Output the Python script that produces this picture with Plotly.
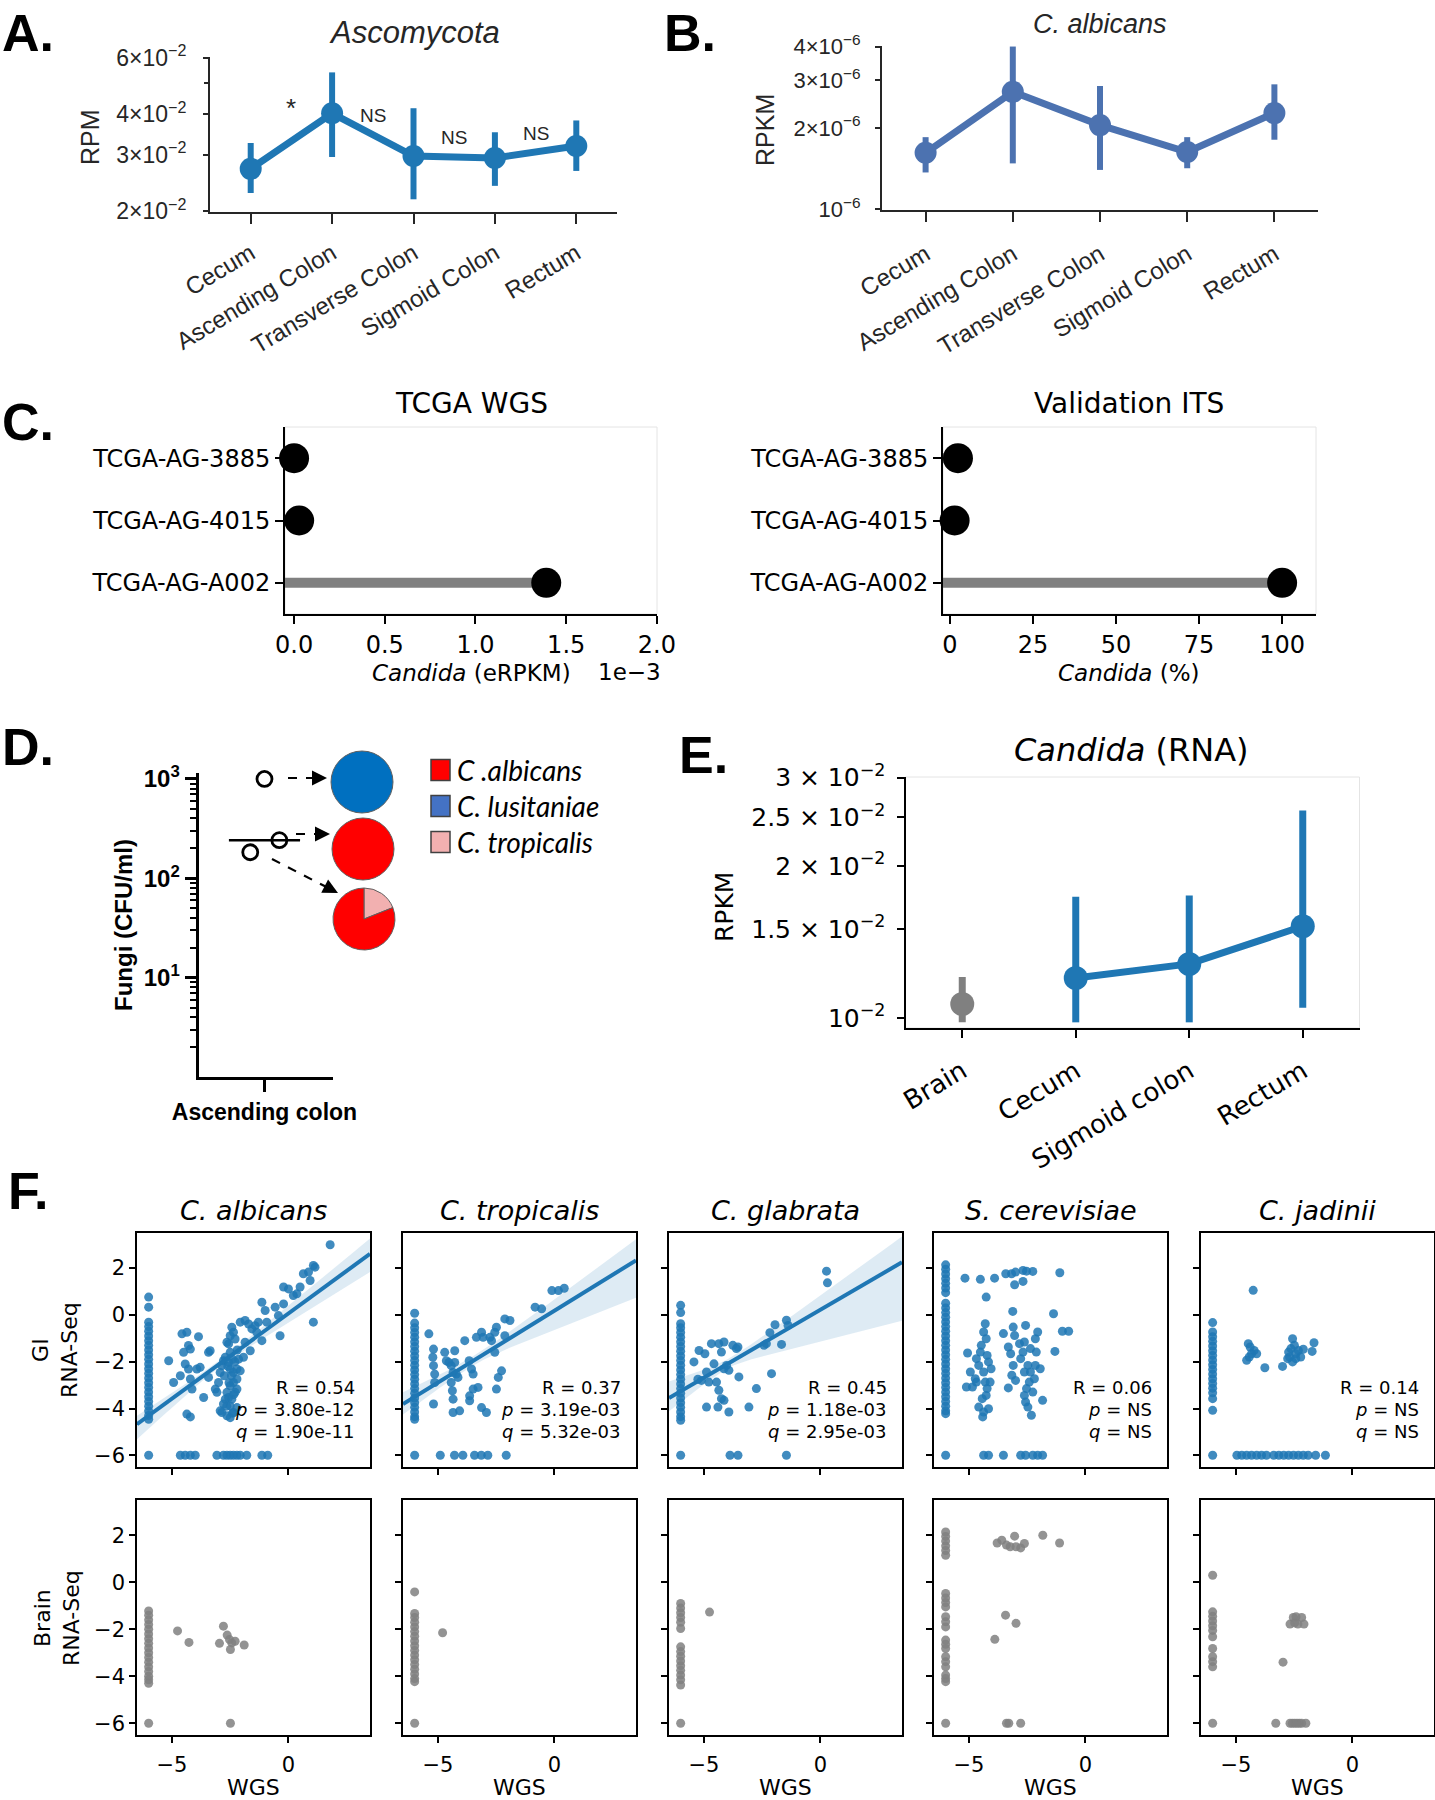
import numpy as np
import plotly.graph_objects as go

W, H = 1435, 1800
SANS = "Liberation Sans"
DJ = "DejaVu Sans"
A_BLUE = "#1f77b4"
B_BLUE = "#4c72b0"
GRAY = "#808080"
AXC = "#262626"

# ---------------- Panel A ----------------
a_cats = ["Cecum", "Ascending Colon", "Transverse Colon", "Sigmoid Colon", "Rectum"]
a_mean = [0.0271, 0.0403, 0.0297, 0.0293, 0.0319]
a_hi = [0.0326, 0.0540, 0.0418, 0.0352, 0.0383]
a_lo = [0.0228, 0.0295, 0.0218, 0.0240, 0.0267]
a_sig_text = ["*", "NS", "NS", "NS"]
a_sig_y = [0.0418, 0.0397, 0.0340, 0.0350]
a_ticks = [0.02, 0.03, 0.04, 0.06]
a_ticktext = ["2×10<sup>−2</sup>", "3×10<sup>−2</sup>", "4×10<sup>−2</sup>", "6×10<sup>−2</sup>"]

# ---------------- Panel B ----------------
b_cats = ["Cecum", "Ascending Colon", "Transverse Colon", "Sigmoid Colon", "Rectum"]
b_mean = [1.62e-6, 2.72e-6, 2.05e-6, 1.63e-6, 2.27e-6]
b_hi = [1.85e-6, 4.0e-6, 2.86e-6, 1.85e-6, 2.90e-6]
b_lo = [1.37e-6, 1.48e-6, 1.40e-6, 1.42e-6, 1.81e-6]
b_ticks = [1e-6, 2e-6, 3e-6, 4e-6]
b_ticktext = ["10<sup>−6</sup>", "2×10<sup>−6</sup>", "3×10<sup>−6</sup>", "4×10<sup>−6</sup>"]

# ---------------- Panel C ----------------
c_samples = ["TCGA-AG-3885", "TCGA-AG-4015", "TCGA-AG-A002"]
c_wgs = [0.0, 0.028, 1.39]          # x 1e-3 eRPKM
c_its = [2.4, 1.4, 100.0]           # %
c_wgs_ticks = [0.0, 0.5, 1.0, 1.5, 2.0]
c_its_ticks = [0, 25, 50, 75, 100]

# ---------------- Panel D ----------------
d_cfu = [1000, 242, 183]
d_jitter = [0.0, 0.113, -0.108]
d_pie_labels = [["C. lusitaniae"], ["C. albicans"], ["C. tropicalis", "C. albicans"]]
d_pie_values = [[1.0], [1.0], [0.19, 0.81]]
d_pie_colors = [["#0070c0"], ["#ff0000"], ["#f2b0b0", "#ff0000"]]
d_legend_text = ["C .albicans", "C. lusitaniae", "C. tropicalis"]
d_legend_colors = ["#ff0000", "#4472c4", "#f2b0b0"]

# ---------------- Panel E ----------------
e_cats = ["Brain", "Cecum", "Sigmoid colon", "Rectum"]
e_mean = [0.01066, 0.0120, 0.0128, 0.0152]
e_hi = [0.01205, 0.0174, 0.0175, 0.0258]
e_lo = [0.0098, 0.0098, 0.0098, 0.01047]
e_threshold = 0.01131
e_ticks = [0.01, 0.015, 0.02, 0.025, 0.03]
e_ticktext = ["10<sup>−2</sup>", "1.5 × 10<sup>−2</sup>", "2 × 10<sup>−2</sup>",
              "2.5 × 10<sup>−2</sup>", "3 × 10<sup>−2</sup>"]

# ---------------- Panel F ----------------
f_species = ["C. albicans", "C. tropicalis", "C. glabrata", "S. cerevisiae", "C. jadinii"]
f_R = ["0.54", "0.37", "0.45", "0.06", "0.14"]
f_p = ["3.80e-12", "3.19e-03", "1.18e-03", "NS", "NS"]
f_q = ["1.90e-11", "5.32e-03", "2.95e-03", "NS", "NS"]
f_floor = -6.0
f_ticks_x = [-5, 0]
f_ticks_y = [-6, -4, -2, 0, 2]
# regression fits: slope, intercept, centre, min half-width, upper(left,right), lower(left,right)
f_fit_slope = [0.728, 0.614, 0.58, None, None]
f_fit_icpt = [0.062, 0.181, 0.22, None, None]
f_ci_centre = [-3.0, -3.5, -4.0, None, None]
f_ci_min = [0.15, 0.2, 0.2, None, None]
f_ci_up = [(0.36, 0.65), (0.5, 0.9), (0.7, 1.1), None, None]
f_ci_lo = [(0.64, 0.78), (0.45, 1.6), (0.57, 2.5), None, None]

alb_gi_pts = [(-5.14, -1.96), (-4.93, -2.89), (-4.64, -2.6), (-4.57, -0.81), (-4.36, -0.74), (-4.5, -1.6),
              (-4.43, -2.1), (-4.29, -1.31), (-4.21, -1.46), (-4.29, -2.31), (-4.21, -2.74), (-4.14, -3.17),
              (-3.86, -0.93), (-3.93, -2.31), (-3.79, -2.24), (-3.64, -3.53), (-3.43, -1.6), (-3.36, -1.53),
              (-3.43, -2.67), (-4.36, -4.24), (-4.21, -4.36), (-3.14, -3.17), (-3.07, -3.31), (-3.0, -2.89),
              (-2.93, -2.46), (-2.86, -2.17), (-2.79, -1.96), (-2.71, -1.81), (-2.64, -1.17), (-2.57, -1.24),
              (-2.5, -0.89), (-2.43, -0.53), (-2.36, -0.74), (-2.29, -1.03), (-2.5, -1.6), (-2.57, -2.03),
              (-2.5, -2.31), (-2.36, -2.46), (-2.21, -2.31), (-2.07, -2.39), (-2.21, -2.74), (-2.36, -2.89),
              (-2.5, -3.03), (-2.64, -3.31), (-2.71, -3.6), (-2.79, -3.81), (-2.93, -4.1), (-2.86, -4.17),
              (-2.64, -4.31), (-2.5, -4.39), (-2.36, -4.17), (-2.21, -3.96), (-2.5, -3.89), (-2.57, -3.53),
              (-2.43, -3.6), (-2.29, -3.31), (-2.21, -3.17), (-2.14, -1.89), (-1.93, -1.81), (-1.86, -1.17),
              (-1.64, -1.53), (-2.07, -0.31), (-1.86, -0.24), (-1.71, -0.39), (-1.57, -0.6), (-1.43, -0.46),
              (-1.29, -0.31), (-1.36, -0.74), (-1.14, -1.1), (-1.14, 0.54), (-1.0, 0.19), (-0.93, -0.31),
              (-0.57, 0.33), (-0.43, -0.03), (-0.36, -0.89), (-0.21, 0.47), (-0.21, 1.19), (0.0, 1.11),
              (0.21, 0.83), (0.36, 0.9), (0.5, 1.19), (0.64, 1.76), (0.86, 1.83), (0.93, 1.47), (1.07, 2.11),
              (1.14, 2.04), (1.07, -0.31), (1.79, 3.0), (-2.6, -2.2), (-2.4, -1.9), (-2.3, -2.0), (-2.45, -2.6),
              (-2.55, -2.9), (-2.35, -3.4), (-2.65, -3.9), (-2.4, -4.2), (-2.75, -2.6), (-2.2, -1.5)]
alb_gi_strip = [0.76, 0.33, -0.31, -0.5, -0.7, -0.9, -1.1, -1.3, -1.5, -1.7, -1.9, -2.1, -2.3, -2.5, -2.7,
                -2.9, -3.1, -3.3, -3.5, -3.7, -3.9, -4.1, -4.3, -4.46]
alb_gi_floor = [-6.0, -4.64, -4.43, -4.21, -4.0, -3.07, -2.79, -2.64, -2.5, -2.36, -2.21, -2.07, -1.79, -1.14, -0.89]

tro_gi_pts = [(-5.39, -0.81), (-5.19, -1.46), (-5.22, -1.81), (-5.19, -2.17), (-5.14, -2.53), (-5.14, -2.89),
              (-5.19, -3.81), (-4.71, -1.6), (-4.64, -1.96), (-4.53, -2.03), (-4.43, -2.17), (-4.35, -2.46),
              (-4.28, -1.53), (-4.28, -2.03), (-4.21, -2.53), (-4.14, -2.67), (-4.43, -2.89), (-4.38, -3.24),
              (-4.35, -3.6), (-4.35, -4.17), (-4.07, -4.1), (-3.85, -1.1), (-3.66, -1.96), (-3.56, -2.31),
              (-3.49, -2.53), (-3.64, -3.46), (-3.64, -3.67), (-3.49, -3.17), (-3.28, -3.1), (-3.35, -0.96),
              (-3.13, -0.74), (-3.06, -0.96), (-2.77, -0.96), (-2.7, -1.1), (-2.56, -0.74), (-2.49, -0.53),
              (-2.13, -0.17), (-1.91, -0.24), (-2.13, -0.89), (-2.56, -1.6), (-2.41, -2.67), (-2.27, -2.39),
              (-2.49, -3.17), (-3.13, -3.96), (-2.92, -4.17), (-0.83, 0.33), (-0.55, 0.26), (-0.11, 1.04),
              (0.17, 1.04), (0.42, 1.14)]
tro_gi_strip = [0.07, -0.35, -0.55, -0.75, -0.95, -1.15, -1.35, -1.55, -1.75, -1.95, -2.15, -2.35, -2.55,
                -2.75, -2.95, -3.15, -3.35, -3.55, -3.75, -3.95, -4.15, -4.35, -4.46]
tro_gi_floor = [-6.0, -4.9, -4.29, -3.93, -3.43, -3.14, -2.86, -2.07]

gla_gi_pts = [(-5.43, -2.01), (-5.21, -1.52), (-5.11, -2.8), (-5.26, -2.75), (-4.96, -1.66), (-4.79, -2.87),
              (-4.89, -2.44), (-4.68, -1.23), (-4.57, -2.09), (-4.46, -2.87), (-4.36, -1.23), (-4.25, -1.59),
              (-4.14, -1.16), (-4.03, -2.16), (-4.14, -2.3), (-3.93, -2.37), (-3.76, -1.3), (-3.61, -1.44),
              (-3.54, -1.37), (-4.36, -3.22), (-4.25, -3.58), (-4.14, -3.65), (-4.4, -3.94), (-4.89, -3.94),
              (-3.93, -4.15), (-3.5, -2.65), (-3.07, -3.94), (-2.75, -3.15), (-2.42, -1.3), (-2.32, -1.23),
              (-2.17, -0.76), (-1.95, -0.42), (-1.67, -1.26), (-1.46, -0.23), (-1.39, -0.45), (-2.1, -2.51),
              (0.26, 1.87), (0.3, 1.37)]
gla_gi_strip = [0.41, 0.1, -0.38, -0.55, -0.75, -0.95, -1.15, -1.35, -1.55, -1.75, -1.95, -2.15, -2.35,
                -2.55, -2.75, -2.95, -3.15, -3.35, -3.55, -3.75, -3.95, -4.15, -4.35, -4.5]
gla_gi_floor = [-6.0, -3.88, -3.54, -1.46]

cer_gi_pts = [(-5.17, 1.57), (-4.51, 1.52), (-3.9, 1.57), (-3.42, 1.76), (-3.17, 1.76), (-3.0, 1.83),
              (-2.68, 1.9), (-2.53, 1.87), (-2.26, 1.86), (-3.04, 1.29), (-2.68, 1.43), (-1.1, 1.8),
              (-4.26, 0.76), (-3.12, 0.15), (-1.37, 0.05), (-0.99, -0.7), (-0.72, -0.7), (-1.31, -1.56),
              (-5.06, -1.63), (-4.94, -2.44), (-4.85, -3.08), (-5.11, -3.08), (-4.73, -2.73), (-4.68, -1.87),
              (-4.58, -2.16), (-4.51, -1.59), (-4.47, -1.3), (-4.37, -0.73), (-4.3, -0.38), (-4.26, -1.02),
              (-4.22, -1.73), (-4.16, -2.01), (-4.37, -2.44), (-4.3, -2.87), (-4.22, -3.15), (-4.26, -3.44),
              (-4.43, -3.58), (-4.58, -3.94), (-4.37, -4.15), (-4.41, -4.36), (-4.16, -4.01), (-4.09, -2.87),
              (-4.05, -2.3), (-4.68, -2.87), (-3.52, -0.8), (-3.31, -1.37), (-3.21, -1.66), (-3.1, -0.52),
              (-3.04, -0.88), (-3.1, -2.16), (-3.16, -2.58), (-3.31, -3.12), (-3.0, -2.8), (-2.78, -1.87),
              (-2.68, -1.59), (-2.62, -1.16), (-2.57, -0.45), (-2.47, -2.16), (-2.36, -2.44), (-2.41, -2.87),
              (-2.53, -3.15), (-2.62, -3.44), (-2.57, -3.72), (-2.47, -3.94), (-2.32, -4.29), (-2.26, -3.3),
              (-2.19, -2.73), (-2.15, -2.16), (-2.11, -1.59), (-2.15, -1.02), (-2.05, -0.73), (-1.94, -2.3),
              (-1.84, -3.65), (-2.36, -1.44), (-2.62, -2.44), (-2.83, -1.23)]
cer_gi_strip = [2.14, 1.95, 1.75, 1.55, 1.35, 1.15, 0.95, 0.5, 0.3, 0.1, -0.1, -0.3, -0.5, -0.7, -0.9,
                -1.1, -1.3, -1.5, -1.7, -1.9, -2.1, -2.3, -2.5, -2.7, -2.9, -3.1, -3.3, -3.5, -3.7, -3.9,
                -4.1, -4.22]
cer_gi_floor = [-6.0, -4.37, -4.16, -3.52, -2.78, -2.57, -2.26, -2.05, -1.84]

jad_gi_pts = [(-4.26, 1.05), (-4.47, -1.23), (-4.39, -1.37), (-4.22, -1.52), (-4.33, -1.66), (-4.43, -1.8),
              (-4.11, -1.66), (-4.54, -1.94), (-3.76, -2.26), (-3.0, -2.2), (-2.78, -1.87), (-2.74, -1.59),
              (-2.64, -1.44), (-2.57, -1.02), (-2.49, -1.3), (-2.43, -1.66), (-2.32, -1.52), (-2.22, -1.8),
              (-2.43, -1.87), (-2.57, -2.01), (-2.11, -1.47), (-1.73, -1.56), (-1.65, -1.19), (-2.7, -1.8)]
jad_gi_strip = [-0.33, -0.73, -0.93, -1.13, -1.33, -1.53, -1.73, -1.93, -2.13, -2.33, -2.53, -2.73,
                -2.93, -3.13, -3.33, -3.58, -4.08]
jad_gi_floor = [-6.0, -4.96, -4.75, -4.54, -4.33, -4.11, -3.9, -3.69, -3.38, -3.16, -2.95, -2.74, -2.53,
                -2.32, -2.11, -1.9, -1.58, -1.16]

alb_br_pts = [(-4.76, -2.07), (-4.27, -2.56), (-2.96, -2.6), (-2.79, -1.87), (-2.63, -2.25), (-2.53, -2.44),
              (-2.43, -2.58), (-2.29, -2.51), (-2.49, -2.86), (-1.9, -2.67)]
alb_br_strip = [-1.22, -1.4, -1.6, -1.8, -2.0, -2.2, -2.4, -2.6, -2.8, -3.0, -3.2, -3.4, -3.6, -3.8, -4.0,
                -4.15, -4.3]
alb_br_floor = [-6.0, -2.49]

tro_br_pts = [(-4.8, -2.15)]
tro_br_strip = [-0.41, -1.33, -1.5, -1.7, -1.9, -2.1, -2.3, -2.5, -2.7, -2.9, -3.1, -3.3, -3.5, -3.7,
                -3.9, -4.1, -4.23]
tro_br_floor = [-6.0]

gla_br_pts = [(-4.76, -1.27)]
gla_br_strip = [-0.9, -1.1, -1.3, -1.5, -1.7, -1.97, -2.75, -2.95, -3.15, -3.35, -3.55, -3.75, -3.95,
                -4.15, -4.37]
gla_br_floor = [-6.0]

cer_br_pts = [(-3.79, 1.67), (-3.59, 1.79), (-3.39, 1.58), (-3.23, 1.51), (-3.04, 1.96), (-2.98, 1.51),
              (-2.78, 1.46), (-2.62, 1.65), (-1.83, 2.0), (-1.11, 1.67), (-3.43, -1.4), (-2.98, -1.75),
              (-3.89, -2.43)]
cer_br_strip = [2.14, 1.95, 1.75, 1.55, 1.35, 1.15, -0.48, -0.67, -0.86, -1.05, -1.47, -1.68, -1.9,
                -2.46, -2.64, -2.82, -3.17, -3.38, -3.6, -3.95, -4.1, -4.23]
cer_br_floor = [-6.0, -3.39, -3.29, -2.78]

jad_br_pts = [(-2.68, -1.78), (-2.54, -1.5), (-2.42, -1.47), (-2.34, -1.78), (-2.18, -1.5), (-2.08, -1.78),
              (-2.48, -1.73), (-2.98, -3.4)]
jad_br_strip = [0.3, -1.26, -1.45, -1.65, -1.85, -2.05, -2.32, -2.82, -3.17, -3.38, -3.6]
jad_br_floor = [-6.0, -3.29, -2.68, -2.58, -2.48, -2.38, -2.28, -2.18, -2.0]

gi_sets = [(alb_gi_pts, alb_gi_strip, alb_gi_floor), (tro_gi_pts, tro_gi_strip, tro_gi_floor),
           (gla_gi_pts, gla_gi_strip, gla_gi_floor), (cer_gi_pts, cer_gi_strip, cer_gi_floor),
           (jad_gi_pts, jad_gi_strip, jad_gi_floor)]
br_sets = [(alb_br_pts, alb_br_strip, alb_br_floor), (tro_br_pts, tro_br_strip, tro_br_floor),
           (gla_br_pts, gla_br_strip, gla_br_floor), (cer_br_pts, cer_br_strip, cer_br_floor),
           (jad_br_pts, jad_br_strip, jad_br_floor)]


# ---------------- helpers ----------------
def dxd(l, r):
    return [l / W, r / W]


def dyd(top, bot):
    return [1 - bot / H, 1 - top / H]


def xk(i):
    return "xaxis" if i == 1 else f"xaxis{i}"


def yk(i):
    return "yaxis" if i == 1 else f"yaxis{i}"


def xr(i):
    return "x" if i == 1 else f"x{i}"


def yr(i):
    return "y" if i == 1 else f"y{i}"


def base_axis(domain, anchor, **kw):
    d = dict(domain=domain, anchor=anchor, showgrid=False, zeroline=False, showline=True,
             linecolor="black", linewidth=2, ticks="outside", tickcolor="black", tickwidth=2,
             ticklen=7, mirror=False, automargin=False)
    d.update(kw)
    return d


def ann(x, y, text, size, family=DJ, xanchor="center", yanchor="middle", color="black", angle=0):
    return dict(x=x / W, y=1 - y / H, xref="paper", yref="paper", text=text, showarrow=False,
                font=dict(family=family, size=size, color=color), xanchor=xanchor, yanchor=yanchor,
                textangle=angle)


fig = go.Figure()
annotations = []
shapes = []
lay = dict(template="none", width=W, height=H, autosize=False,
           margin=dict(l=0, r=0, t=0, b=0, pad=0, autoexpand=False),
           paper_bgcolor="white", plot_bgcolor="white", showlegend=False,
           font=dict(family=DJ, size=20, color="black"))

# ---------------- Panel A ----------------
lay[xk(1)] = base_axis(dxd(210, 617), "y", range=[-0.5, 4.5], tickvals=list(range(len(a_cats))),
                       ticktext=a_cats, tickangle=-31, linecolor=AXC, tickcolor=AXC, ticklen=10,
                       tickfont=dict(family=SANS, size=24, color=AXC), ticklabelstandoff=6)
lay[yk(1)] = base_axis(dyd(57, 212), "x", type="log",
                       range=[np.log10(0.02) - 0.002, np.log10(0.06) + 0.002],
                       tickvals=a_ticks, ticktext=a_ticktext, linecolor=AXC, tickcolor=AXC, ticklen=5,
                       tickfont=dict(family=SANS, size=23, color=AXC), ticklabelstandoff=12,
                       minor=dict(tickvals=[0.05], ticklen=4, ticks="outside", tickcolor=AXC, tickwidth=1.5))
fig.add_trace(go.Scatter(
    x=list(range(len(a_cats))), y=a_mean, mode="lines+markers",
    line=dict(color=A_BLUE, width=7), marker=dict(size=22, color=A_BLUE),
    error_y=dict(type="data", symmetric=False, array=[h - m for h, m in zip(a_hi, a_mean)],
                 arrayminus=[m - l for m, l in zip(a_mean, a_lo)], color=A_BLUE, thickness=6, width=0),
    xaxis="x", yaxis="y"))
for i, (t, v) in enumerate(zip(a_sig_text, a_sig_y)):
    annotations.append(dict(x=i + 0.5, y=np.log10(v), xref="x", yref="y", text=t, showarrow=False,
                            font=dict(family=SANS, size=26 if t == "*" else 19, color=AXC)))
annotations.append(ann(414.6, 32, "<i>Ascomycota</i>", 31, SANS, color=AXC))
annotations.append(ann(90, 137, "RPM", 25, SANS, color=AXC, angle=-90))

# ---------------- Panel B ----------------
lay[xk(2)] = base_axis(dxd(882, 1318), "y2", range=[-0.5, 4.5], tickvals=list(range(len(b_cats))),
                       ticktext=b_cats, tickangle=-31, linecolor=AXC, tickcolor=AXC, ticklen=10,
                       tickfont=dict(family=SANS, size=24, color=AXC), ticklabelstandoff=9)
lay[yk(2)] = base_axis(dyd(46, 210), "x2", type="log",
                       range=[np.log10(1e-6) - 0.002, np.log10(4e-6) + 0.002],
                       tickvals=b_ticks, ticktext=b_ticktext, linecolor=AXC, tickcolor=AXC, ticklen=5,
                       tickfont=dict(family=SANS, size=22, color=AXC), ticklabelstandoff=10)
fig.add_trace(go.Scatter(
    x=list(range(len(b_cats))), y=b_mean, mode="lines+markers",
    line=dict(color=B_BLUE, width=7), marker=dict(size=22, color=B_BLUE),
    error_y=dict(type="data", symmetric=False, array=[h - m for h, m in zip(b_hi, b_mean)],
                 arrayminus=[m - l for m, l in zip(b_mean, b_lo)], color=B_BLUE, thickness=6, width=0),
    xaxis="x2", yaxis="y2"))
annotations.append(ann(1100, 24, "<i>C. albicans</i>", 27, SANS, color=AXC))
annotations.append(ann(765, 130, "RPKM", 25, SANS, color=AXC, angle=-90))

# ---------------- Panel C ----------------
c_frames = [(3, 285, 657, [-0.05, 2.0005], c_wgs, c_wgs_ticks, ["0.0", "0.5", "1.0", "1.5", "2.0"]),
            (4, 943, 1316, [-2.1, 110.2], c_its, c_its_ticks, [str(t) for t in c_its_ticks])]
for idx, l, r, rng, vals, tv, tt in c_frames:
    lay[xk(idx)] = base_axis(dxd(l, r), yr(idx), range=rng, tickvals=tv, ticktext=tt,
                             tickfont=dict(family=DJ, size=24), ticklen=8)
    lay[yk(idx)] = base_axis(dyd(427, 614), xr(idx), type="category", categoryorder="array",
                             categoryarray=c_samples, range=[2.5, -0.5],
                             tickfont=dict(family=DJ, size=24), ticklen=8)
    shapes.append(dict(type="rect", xref="paper", yref="paper", x0=l / W, x1=r / W,
                       y0=1 - 614 / H, y1=1 - 427 / H, line=dict(color="#e4e4e4", width=1), layer="below"))
    for s, v in zip(c_samples, vals):
        fig.add_trace(go.Scatter(x=[rng[0], v], y=[s, s], mode="lines", line=dict(color=GRAY, width=10),
                                 xaxis=xr(idx), yaxis=yr(idx), hoverinfo="skip"))
    fig.add_trace(go.Scatter(x=vals, y=c_samples, mode="markers", marker=dict(size=30, color="black"),
                             xaxis=xr(idx), yaxis=yr(idx), cliponaxis=False))
annotations.append(ann(471, 403, "TCGA WGS", 28))
annotations.append(ann(1128.6, 403, "Validation ITS", 28))
annotations.append(ann(471, 673, "<i>Candida</i> (eRPKM)", 23))
annotations.append(ann(629, 672, "1e−3", 23))
annotations.append(ann(1128.6, 673, "<i>Candida</i> (%)", 23))

# ---------------- Panel D ----------------
d_minor = [m * 10 ** k for k in range(3) for m in range(2, 10)]
lay[xk(5)] = base_axis(dxd(198.6, 333), "y5", range=[-0.5, 0.52], tickvals=[0],
                       ticktext=["<b>Ascending colon</b>"], tickfont=dict(family=SANS, size=23),
                       ticklen=12, linewidth=3, tickwidth=3)
lay[yk(5)] = base_axis(dyd(773, 1077), "x5", type="log", range=[0, 3.06], tickvals=[10, 100, 1000],
                       ticktext=["<b>10<sup>1</sup></b>", "<b>10<sup>2</sup></b>", "<b>10<sup>3</sup></b>"],
                       tickfont=dict(family=SANS, size=24), ticklen=11, linewidth=3, tickwidth=3,
                       minor=dict(tickvals=d_minor, ticklen=6, tickwidth=2, ticks="outside", tickcolor="black"))
d_med = float(np.median(d_cfu))
fig.add_trace(go.Scatter(x=[-0.27, 0.27], y=[d_med, d_med], mode="lines",
                         line=dict(color="black", width=2.5), xaxis="x5", yaxis="y5"))
fig.add_trace(go.Scatter(x=d_jitter, y=d_cfu, mode="markers", cliponaxis=False,
                         marker=dict(symbol="circle-open", size=15, color="black", line=dict(width=2.8)),
                         xaxis="x5", yaxis="y5"))
pie_centres = [(362, 782), (363, 849), (364, 919)]
rad = 31
for (cx, cy), labs, vals, cols in zip(pie_centres, d_pie_labels, d_pie_values, d_pie_colors):
    fig.add_trace(go.Pie(labels=labs, values=vals, marker=dict(colors=cols, line=dict(color="#606060", width=1)),
                         domain=dict(x=dxd(cx - rad, cx + rad), y=dyd(cy - rad, cy + rad)),
                         sort=False, direction="counterclockwise", rotation=0, textinfo="none",
                         hoverinfo="skip", showlegend=False, automargin=False))
arrows = [((288, 778), (327, 778)), ((296, 834), (330, 834)), ((272, 859), (338, 893))]
for (x0, y0), (x1, y1) in arrows:
    L = np.hypot(x1 - x0, y1 - y0)
    ux, uy = (x1 - x0) / L, (y1 - y0) / L
    shapes.append(dict(type="line", xref="paper", yref="paper", x0=x0 / W, y0=1 - y0 / H,
                       x1=(x1 - 6 * ux) / W, y1=1 - (y1 - 6 * uy) / H,
                       line=dict(color="black", width=2.2, dash="dash")))
    annotations.append(dict(x=x1 / W, y=1 - y1 / H, xref="paper", yref="paper", text="", showarrow=True,
                            ax=-12 * ux, ay=-12 * uy, arrowhead=2, arrowsize=1.5, arrowwidth=2,
                            arrowcolor="black", standoff=0))
for i, (txt, col) in enumerate(zip(d_legend_text, d_legend_colors)):
    cy = 770 + 36 * i
    shapes.append(dict(type="rect", xref="paper", yref="paper", x0=431 / W, x1=450 / W,
                       y0=1 - (cy + 10.5) / H, y1=1 - (cy - 10.5) / H, fillcolor=col,
                       line=dict(color="#404040", width=1.5)))
    annotations.append(ann(455, cy, f"<i>{txt}</i>", 28, "Lato", xanchor="left"))
annotations.append(ann(124, 925, "<b>Fungi (CFU/ml)</b>", 24, SANS, angle=-90))

# ---------------- Panel E ----------------
lay[xk(6)] = base_axis(dxd(905.5, 1359.5), "y6", range=[-0.5, 3.5], tickvals=list(range(len(e_cats))),
                       ticktext=e_cats, tickangle=-31, tickfont=dict(family=DJ, size=26), ticklen=8,
                       ticklabelstandoff=8)
lay[yk(6)] = base_axis(dyd(777, 1028), "x6", type="log",
                       range=[np.log10(0.00955), np.log10(0.03) + 0.001],
                       tickvals=e_ticks, ticktext=e_ticktext, tickfont=dict(family=DJ, size=25),
                       ticklen=7, ticklabelstandoff=6)
shapes.append(dict(type="rect", xref="paper", yref="paper", x0=905.5 / W, x1=1359.5 / W,
                   y0=1 - 1028 / H, y1=1 - 777 / H, line=dict(color="#e4e4e4", width=1), layer="below"))
fig.add_trace(go.Scatter(
    x=[0], y=[e_mean[0]], mode="markers", marker=dict(size=24, color=GRAY),
    error_y=dict(type="data", symmetric=False, array=[e_hi[0] - e_mean[0]],
                 arrayminus=[e_mean[0] - e_lo[0]], color=GRAY, thickness=7, width=0),
    xaxis="x6", yaxis="y6"))
fig.add_trace(go.Scatter(
    x=list(range(1, len(e_cats))), y=e_mean[1:], mode="lines+markers",
    line=dict(color=A_BLUE, width=7), marker=dict(size=24, color=A_BLUE),
    error_y=dict(type="data", symmetric=False, array=[h - m for h, m in zip(e_hi[1:], e_mean[1:])],
                 arrayminus=[m - l for m, l in zip(e_mean[1:], e_lo[1:])], color=A_BLUE, thickness=7, width=0),
    xaxis="x6", yaxis="y6"))
shapes.append(dict(type="line", xref="x6 domain", yref="y6", x0=0, x1=1,
                   y0=np.log10(e_threshold), y1=np.log10(e_threshold),
                   line=dict(color="black", width=1.5, dash="dash")))
annotations.append(ann(1131, 750, "<i>Candida</i> (RNA)", 32))
annotations.append(ann(724, 907, "RPKM", 25, angle=-90))

# ---------------- Panel F ----------------
col_left = [137, 403, 669, 934, 1201]
fw = 233
rows = [(1233, 1467, gi_sets, A_BLUE, 7), (1500, 1735, br_sets, GRAY, 12)]


def ci_band(slope, icpt, xm, w0, up, lo, x0=-6.5, x1=3.5, n=80):
    xs = np.linspace(x0, x1, n)
    yl = slope * xs + icpt
    left = xs < xm
    t = np.where(left, (xs - xm) / (x0 - xm), (xs - xm) / (x1 - xm))
    eu = np.where(left, up[0], up[1])
    el = np.where(left, lo[0], lo[1])
    upper = yl + np.sqrt(w0 ** 2 + (eu ** 2 - w0 ** 2) * t ** 2)
    lower = yl - np.sqrt(w0 ** 2 + (el ** 2 - w0 ** 2) * t ** 2)
    return xs, yl, upper, lower


for r, (top, bot, sets, color, base) in enumerate(rows):
    for c in range(5):
        idx = base + c
        l = col_left[c]
        lay[xk(idx)] = base_axis(dxd(l, l + fw), yr(idx), range=[-6.5, 3.5], tickvals=f_ticks_x,
                                 showticklabels=(r == 1), mirror=True, linewidth=1.5, tickwidth=1.5,
                                 ticklen=6, tickfont=dict(family=DJ, size=21), ticklabelstandoff=4)
        lay[yk(idx)] = base_axis(dyd(top, bot), xr(idx), range=[-6.5, 3.5], tickvals=f_ticks_y,
                                 showticklabels=(c == 0), mirror=True, linewidth=1.5, tickwidth=1.5,
                                 ticklen=6, tickfont=dict(family=DJ, size=21))
        pts, strip, floor = sets[c]
        xs = [p[0] for p in pts] + [f_floor] * len(strip) + floor
        ys = [p[1] for p in pts] + strip + [f_floor] * len(floor)
        fig.add_trace(go.Scatter(x=xs, y=ys, mode="markers",
                                 marker=dict(size=9, color=color, opacity=0.85),
                                 xaxis=xr(idx), yaxis=yr(idx)))
        if r == 0 and f_fit_slope[c] is not None:
            bx, by, bu, blo = ci_band(f_fit_slope[c], f_fit_icpt[c], f_ci_centre[c], f_ci_min[c],
                                      f_ci_up[c], f_ci_lo[c])
            fig.add_trace(go.Scatter(x=np.concatenate([bx, bx[::-1]]), y=np.concatenate([bu, blo[::-1]]),
                                     mode="lines", fill="toself", fillcolor="rgba(31,119,180,0.15)",
                                     line=dict(width=0), xaxis=xr(idx), yaxis=yr(idx), hoverinfo="skip"))
            fig.add_trace(go.Scatter(x=bx, y=by, mode="lines", line=dict(color=A_BLUE, width=4),
                                     xaxis=xr(idx), yaxis=yr(idx)))
        if r == 0:
            annotations.append(ann(l + fw / 2, 1210, f"<i>{f_species[c]}</i>", 27))
            for j, txt in enumerate([f"R = {f_R[c]}", f"<i>p</i> = {f_p[c]}", f"<i>q</i> = {f_q[c]}"]):
                annotations.append(dict(x=0.944, y=0.338 - 0.094 * j, xref=f"{xr(idx)} domain",
                                        yref=f"{yr(idx)} domain", text=txt, showarrow=False,
                                        xanchor="right", yanchor="middle",
                                        font=dict(family=DJ, size=18, color="black")))
        else:
            annotations.append(ann(l + fw / 2, 1787, "WGS", 22))

annotations.append(ann(55, 1350, "GI<br>RNA-Seq", 22, angle=-90))
annotations.append(ann(57, 1618, "Brain<br>RNA-Seq", 22, angle=-90))

# ---------------- panel letters ----------------
for letter, x, y in [("A.", 0, 33), ("B.", 662, 33), ("C.", 0, 422), ("D.", 0, 747), ("E.", 677, 755),
                     ("F.", 6, 1191)]:
    annotations.append(ann(x, y, f"<b>{letter}</b>", 52, SANS, xanchor="left"))

lay["annotations"] = annotations
lay["shapes"] = shapes
fig.update_layout(**lay)
fig.write_html("out.html",
               post_script="document.documentElement.style.overflow='hidden';"
                           "document.body.style.margin='0';document.body.style.overflow='hidden';")
